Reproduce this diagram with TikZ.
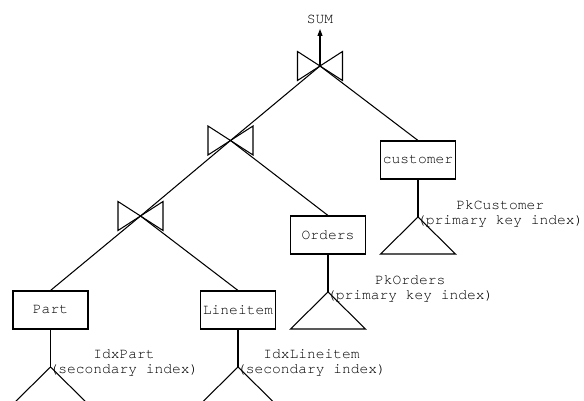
\documentclass[tikz,border=0pt]{standalone}
\usepackage{fontspec}
\setmonofont{TeX Gyre Cursor}
\usetikzlibrary{arrows.meta}
\begin{document}
\begin{tikzpicture}[x=1pt,y=-1pt,line width=1.05pt,
  txt/.style={font=\ttfamily\fontsize{14.6}{15}\selectfont},
  tbl/.style={draw,txt,minimum width=75pt,minimum height=38pt,inner sep=0pt},
  lbl/.style={txt,align=center,inner sep=0pt,anchor=west},
  bowtie/.pic={\draw (-22.5,-14.5) -- (22.5,14.5) -- (22.5,-14.5) -- (-22.5,14.5) -- cycle;},
  idxtri/.pic={\draw (0,0) -- (-37.5,37) -- (37.5,37) -- cycle;}]
\useasboundingbox (0,0) rectangle (584,401);
\clip (0,0) rectangle (584,401);
% joins
\coordinate (j1) at (320,66);
\coordinate (j2) at (230.5,140.5);
\coordinate (j3) at (140.5,216);
\pic at (j1) {bowtie};
\pic at (j2) {bowtie};
\pic at (j3) {bowtie};
% SUM
\node[txt,anchor=south,inner sep=5pt] (sum) at (320,29) {SUM};
\draw[-{Triangle[length=7pt,width=5pt]}] (j1) -- (sum);
% tables
\node[tbl] (customer) at (418,160) {customer};
\node[tbl] (orders) at (328,235) {Orders};
\node[tbl] (part) at (50.5,310) {Part};
\node[tbl] (lineitem) at (238,310) {Lineitem};
% index apexes
\coordinate (ic) at (418,217);
\coordinate (io) at (328,292);
\coordinate (ip) at (50.5,367);
\coordinate (il) at (238,367);
\pic at (ic) {idxtri};
\pic at (io) {idxtri};
\pic at (ip) {idxtri};
\pic at (il) {idxtri};
% connectors
\draw (j1) -- (j2);
\draw (j1) -- (customer.north);
\draw (j2) -- (j3);
\draw (j2) -- (orders.north);
\draw (j3) -- (part.north);
\draw (j3) -- (lineitem.north);
\draw (customer.south) -- (ic);
\draw (orders.south) -- (io);
\draw (part.south) -- (ip);
\draw (lineitem.south) -- (il);
% labels
\node[lbl] (lc) at (416.5,213.5) {PkCustomer\\(primary key index)};
\node[lbl] (lo) at (326.5,288.5) {PkOrders\\(primary key index)};
\node[lbl] (lp) at (49,363) {IdxPart\\(secondary index)};
\node[lbl] (ll) at (236.5,363) {IdxLineitem\\(secondary index)};
\end{tikzpicture}
\end{document}
